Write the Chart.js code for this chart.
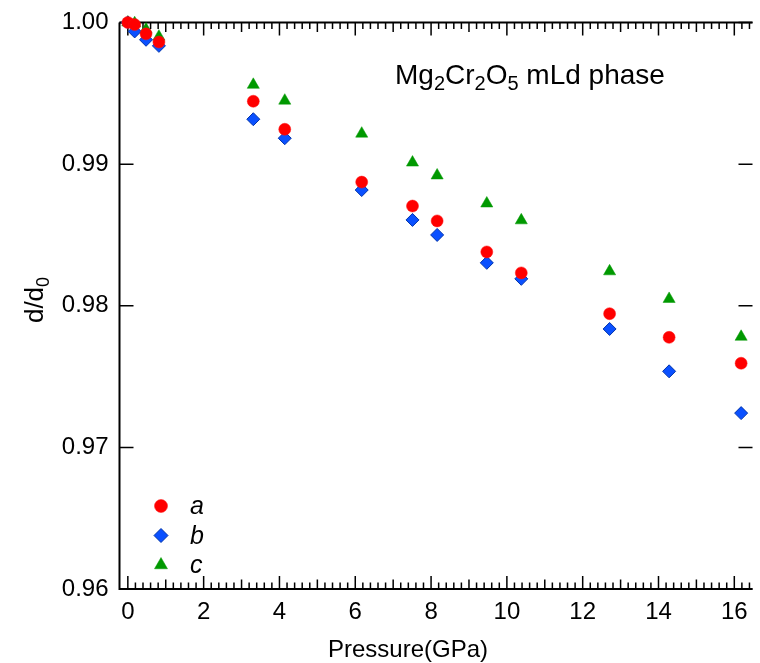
<!DOCTYPE html>
<html>
<head>
<meta charset="utf-8">
<script src="https://cdn.jsdelivr.net/npm/chart.js@4.4.0/dist/chart.umd.min.js"></script>
<style>
  html, body { margin: 0; padding: 0; background: #fff; }
  #wrap { width: 760px; height: 663px; }
</style>
</head>
<body>
<div id="wrap"><canvas id="chart" width="760" height="663"></canvas></div>
<script>
// d/d0 vs pressure for the three lattice directions
const pressure = [0, 0.18, 0.48, 0.82, 3.31, 4.14, 6.17, 7.51, 8.16, 9.47, 10.38, 12.71, 14.28, 16.18];
const ratioA = [1.0000, 0.99985, 0.99920, 0.99862, 0.99444, 0.99246, 0.98873, 0.98704, 0.98599, 0.98380, 0.98232, 0.97944, 0.97777, 0.97594];
const ratioB = [1.0000, 0.99937, 0.99878, 0.99835, 0.99317, 0.99183, 0.98817, 0.98606, 0.98500, 0.98303, 0.98190, 0.97836, 0.97537, 0.97242];
const ratioC = [1.0000, 0.99995, 0.99950, 0.99900, 0.99560, 0.99448, 0.99215, 0.99011, 0.98920, 0.98722, 0.98603, 0.98243, 0.98048, 0.97781];
const seriesNames = ['a', 'b', 'c'];
const xTicks = [0, 2, 4, 6, 8, 10, 12, 14, 16];
const yTicks = [0.96, 0.97, 0.98, 0.99, 1.00];

const FONT = 'Liberation Sans, Arial, Helvetica, sans-serif';

function pts(ys) {
  return pressure.map((p, i) => ({ x: p, y: ys[i] }));
}

// axes box with inward ticks, igor style
const framePlugin = {
  id: 'frame',
  beforeDatasetsDraw(chart) {
    const { ctx, chartArea: a, scales: { x, y } } = chart;
    ctx.save();
    ctx.strokeStyle = '#000';
    ctx.lineWidth = 2;
    ctx.beginPath();
    ctx.moveTo(a.left, a.top);
    ctx.lineTo(a.left, a.bottom);
    ctx.lineTo(a.right, a.bottom);
    ctx.moveTo(a.left, a.top);
    ctx.lineTo(a.right, a.top);
    ctx.stroke();

    ctx.lineWidth = 1.5;
    ctx.beginPath();
    for (let i = -1; i <= 82; i++) {
      const v = i / 5;
      const px = x.getPixelForValue(v);
      if (px < a.left + 1 || px > a.right) continue;
      const len = i % 10 === 0 ? 13 : (i % 5 === 0 ? 9.5 : 6.5);
      ctx.moveTo(px, a.bottom);
      ctx.lineTo(px, a.bottom - len);
      ctx.moveTo(px, a.top);
      ctx.lineTo(px, a.top + len);
    }
    yTicks.forEach(v => {
      const py = y.getPixelForValue(v);
      ctx.moveTo(a.left, py);
      ctx.lineTo(a.left + 14, py);
      ctx.moveTo(a.right, py);
      ctx.lineTo(a.right - 14, py);
    });
    ctx.stroke();

    // x title
    ctx.fillStyle = '#000';
    ctx.font = '24px ' + FONT;
    ctx.textAlign = 'center';
    ctx.textBaseline = 'middle';
    ctx.fillText('Pressure(GPa)', 408, 650);

    // y title d/d0
    ctx.textAlign = 'left';
    ctx.translate(34, 300);
    ctx.rotate(-Math.PI / 2);
    ctx.font = '26px ' + FONT;
    const w1 = ctx.measureText('d/d').width;
    ctx.font = '18px ' + FONT;
    const w2 = ctx.measureText('0').width;
    let sx = -(w1 + w2) / 2;
    ctx.textBaseline = 'alphabetic';
    ctx.font = '26px ' + FONT;
    ctx.fillText('d/d', sx, 9);
    ctx.font = '18px ' + FONT;
    ctx.fillText('0', sx + w1, 15);
    ctx.restore();
  },
  afterDatasetsDraw(chart) {
    const { ctx } = chart;
    ctx.save();
    ctx.fillStyle = '#000';
    ctx.textBaseline = 'alphabetic';
    // annotation with subscripts
    const parts = [['Mg', 0], ['2', 1], ['Cr', 0], ['2', 1], ['O', 0], ['5', 1], [' mLd phase', 0]];
    let tx = 395;
    parts.forEach(([s, sub]) => {
      ctx.font = (sub ? '20px ' : '28px ') + FONT;
      ctx.fillText(s, tx, sub ? 90 : 84);
      tx += ctx.measureText(s).width;
    });

    // legend
    chart.data.datasets.forEach((ds, i) => {
      const ly = 506 + i * 29.5;
      ctx.fillStyle = ds.backgroundColor;
      ctx.strokeStyle = ds.borderColor;
      ctx.lineWidth = ds.borderWidth;
      Chart.helpers.drawPoint(ctx, { pointStyle: ds.pointStyle, radius: ds.pointRadius + 0.5, borderWidth: ds.borderWidth, rotation: 0 }, 161, ly);
      ctx.fillStyle = '#000';
      ctx.font = 'italic 25px ' + FONT;
      ctx.fillText(seriesNames[i], 190, ly + 8);
    });
    ctx.restore();
  }
};

new Chart(document.getElementById('chart'), {
  type: 'scatter',
  data: {
    datasets: [
      { label: seriesNames[0], data: pts(ratioA), pointStyle: 'circle', pointRadius: 6,
        backgroundColor: '#ff0000', borderColor: '#ff1010', borderWidth: 0.5, clip: false },
      { label: seriesNames[1], data: pts(ratioB), pointStyle: 'rectRot', pointRadius: 6.5,
        backgroundColor: '#0a50ff', borderColor: '#0033aa', borderWidth: 1, clip: false },
      { label: seriesNames[2], data: pts(ratioC), pointStyle: 'triangle', pointRadius: 7,
        backgroundColor: '#009900', borderColor: '#009900', borderWidth: 0.5, clip: false }
    ]
  },
  options: {
    responsive: false,
    animation: false,
    devicePixelRatio: 1,
    layout: { padding: { top: 22.5, right: 0, bottom: 0, left: 0 } },
    plugins: { legend: { display: false }, tooltip: { enabled: false } },
    scales: {
      x: {
        type: 'linear', min: -0.22, max: 16.48,
        afterBuildTicks: s => { s.ticks = xTicks.map(v => ({ value: v })); },
        afterFit: s => { s.height = 74; },
        grid: { display: false }, border: { display: false },
        ticks: { font: { size: 24, family: FONT }, color: '#000', padding: 1, maxRotation: 0, autoSkip: false }
      },
      y: {
        min: 0.96, max: 1.0,
        afterBuildTicks: s => { s.ticks = yTicks.map(v => ({ value: v })); },
        afterFit: s => { s.width = 119.5; },
        grid: { display: false }, border: { display: false },
        ticks: { font: { size: 24, family: FONT }, color: '#000', padding: 3, callback: v => v.toFixed(2) }
      }
    }
  },
  plugins: [framePlugin]
});
</script>
</body>
</html>
